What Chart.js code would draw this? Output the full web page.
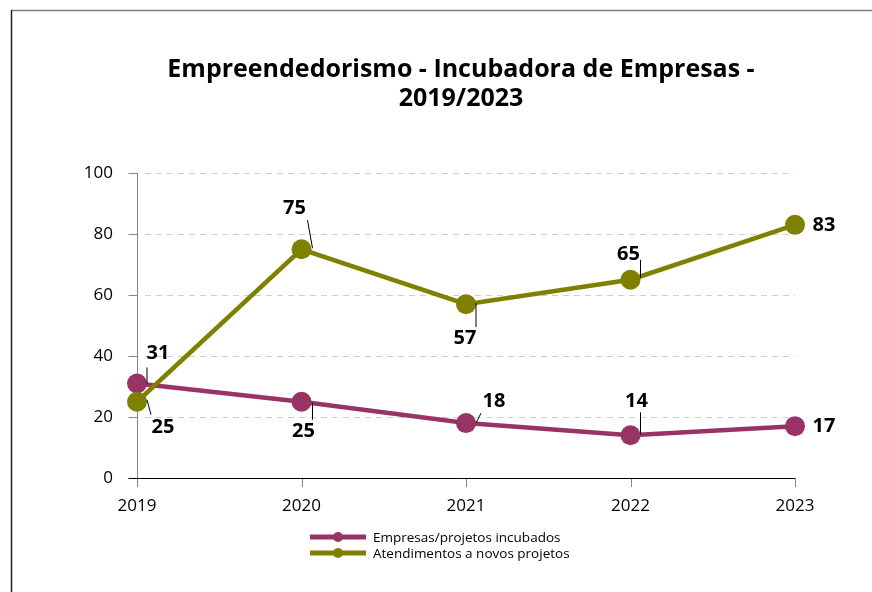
<!DOCTYPE html>
<html>
<head>
<meta charset="utf-8">
<script src="https://cdn.jsdelivr.net/npm/chart.js@4"></script>
<style>
  html, body { margin: 0; padding: 0; background: #fff; }
  #wrap { position: relative; width: 872px; height: 592px; }
</style>
</head>
<body>
<div id="wrap"><canvas id="chart" width="872" height="592"></canvas></div>
<script>
// data
var years = ['2019', '2020', '2021', '2022', '2023'];
var incubados = [31, 25, 18, 14, 17];
var atendimentos = [25, 75, 57, 65, 83];
var yTicks = [0, 20, 40, 60, 80, 100];

var titleLines = ['Empreendedorismo - Incubadora de Empresas -', '2019/2023'];
var nameIncubados = 'Empresas/projetos incubados';
var nameAtendimentos = 'Atendimentos a novos projetos';

var colIncubados = '#993366';
var colAtendimentos = '#808000';
var FONT = '"Open Sans", "Noto Sans", sans-serif';

// where each value label sits relative to its point, plus its little leader line
var labelOffIncubados = [[21, -30], [2, 30], [28, -22], [6, -34], [29, 0]];
var leaderIncubados = [[10, -16, 10, 0], [11, 1, 11, 18], [10, 0, 15, -10], [10, -23, 10, -1], null];
var labelOffAtend = [[26, 26], [-7, -41], [-1, 34], [-2, -25], [29, 0]];
var leaderAtend = [[10, -2, 14, 13], [6, -29, 11, -1], [10, -1, 10, 23], [10, -20, 10, -2], null];

var extras = {
  id: 'extras',
  beforeDraw: function (chart) {
    var ctx = chart.ctx;
    ctx.save();
    // frame (only top and left visible)
    ctx.strokeStyle = '#7f7f7f';
    ctx.lineWidth = 1.5;
    ctx.beginPath();
    ctx.moveTo(11, 10.5); ctx.lineTo(872, 10.5);
    ctx.stroke();
    ctx.strokeStyle = '#222';
    ctx.lineWidth = 1.5;
    ctx.beginPath();
    ctx.moveTo(11.5, 10); ctx.lineTo(11.5, 592);
    ctx.stroke();

    // title
    ctx.fillStyle = '#000';
    ctx.font = 'bold 25px ' + FONT;
    ctx.textAlign = 'center';
    ctx.textBaseline = 'middle';
    ctx.fillText(titleLines[0], 461, 70);
    ctx.fillText(titleLines[1], 461, 99);

    var ys = chart.scales.y, xs = chart.scales.x;
    var left = chart.chartArea.left, right = chart.chartArea.right;
    var y0 = ys.getPixelForValue(0);

    // dashed grid
    ctx.strokeStyle = '#cfcfcf';
    ctx.lineWidth = 1;
    ctx.setLineDash([6, 5]);
    yTicks.forEach(function (v) {
      if (v === 0) return;
      var y = Math.round(ys.getPixelForValue(v)) + 0.5;
      ctx.beginPath(); ctx.moveTo(left + 8, y); ctx.lineTo(right, y); ctx.stroke();
    });
    ctx.setLineDash([]);

    // y axis line and ticks
    ctx.strokeStyle = '#868686';
    var ax = Math.round(left) + 0.5;
    ctx.beginPath(); ctx.moveTo(ax, ys.getPixelForValue(100)); ctx.lineTo(ax, y0 + 9); ctx.stroke();
    yTicks.forEach(function (v) {
      var y = Math.round(ys.getPixelForValue(v)) + 0.5;
      ctx.beginPath(); ctx.moveTo(ax - 9, y); ctx.lineTo(ax, y); ctx.stroke();
    });
    // x ticks
    years.forEach(function (yr, i) {
      var x = Math.round(xs.getPixelForValue(i)) + 0.5;
      ctx.beginPath(); ctx.moveTo(x, y0); ctx.lineTo(x, y0 + 9); ctx.stroke();
    });
    // x axis line
    ctx.strokeStyle = '#000';
    var yy = Math.round(y0) + 0.5;
    ctx.beginPath(); ctx.moveTo(ax - 9, yy); ctx.lineTo(right, yy); ctx.stroke();

    // legend
    var rows = [[nameIncubados, colIncubados, 537], [nameAtendimentos, colAtendimentos, 553]];
    ctx.font = '13.5px ' + FONT;
    ctx.textAlign = 'left';
    rows.forEach(function (r) {
      ctx.strokeStyle = r[1];
      ctx.lineWidth = 5;
      ctx.beginPath(); ctx.moveTo(310, r[2]); ctx.lineTo(366, r[2]); ctx.stroke();
      ctx.fillStyle = r[1];
      ctx.beginPath(); ctx.arc(338, r[2], 5, 0, Math.PI * 2); ctx.fill();
      ctx.fillStyle = '#000';
      ctx.fillText(r[0], 373, r[2] + 1);
    });
    ctx.restore();
  },
  afterDatasetsDraw: function (chart) {
    var ctx = chart.ctx;
    ctx.save();
    ctx.font = 'bold 20px ' + FONT;
    ctx.textAlign = 'center';
    ctx.textBaseline = 'middle';
    var sets = [[0, incubados, labelOffIncubados, leaderIncubados], [1, atendimentos, labelOffAtend, leaderAtend]];
    sets.forEach(function (s) {
      var meta = chart.getDatasetMeta(s[0]);
      meta.data.forEach(function (pt, i) {
        var off = s[2][i], ld = s[3][i];
        if (ld) {
          ctx.strokeStyle = '#000';
          ctx.lineWidth = 1;
          ctx.beginPath();
          ctx.moveTo(pt.x + ld[0], pt.y + ld[1]);
          ctx.lineTo(pt.x + ld[2], pt.y + ld[3]);
          ctx.stroke();
        }
        ctx.fillStyle = '#000';
        ctx.fillText(String(s[1][i]), pt.x + off[0], pt.y + off[1]);
      });
    });
    ctx.restore();
  }
};

new Chart(document.getElementById('chart'), {
  type: 'line',
  data: {
    labels: years,
    datasets: [{
      label: nameIncubados,
      data: incubados,
      borderColor: colIncubados,
      backgroundColor: colIncubados,
      borderWidth: 4.5,
      pointRadius: 10,
      pointHoverRadius: 10,
      pointBorderWidth: 0,
      order: 2
    }, {
      label: nameAtendimentos,
      data: atendimentos,
      borderColor: colAtendimentos,
      backgroundColor: colAtendimentos,
      borderWidth: 4.5,
      pointRadius: 10,
      pointHoverRadius: 10,
      pointBorderWidth: 0,
      order: 1
    }]
  },
  options: {
    responsive: false,
    animation: false,
    events: [],
    layout: { padding: { left: 40, right: 77, top: 173, bottom: 74 } },
    plugins: { legend: { display: false }, title: { display: false }, tooltip: { enabled: false } },
    scales: {
      x: {
        offset: false,
        grid: { display: false },
        border: { display: false },
        ticks: { color: '#000', font: { family: FONT, size: 17 }, padding: 10 },
        afterFit: function (s) { s.height = 40; }
      },
      y: {
        min: 0, max: 100,
        grid: { display: false },
        border: { display: false },
        ticks: { stepSize: 20, color: '#000', font: { family: FONT, size: 17 }, padding: 16 },
        afterFit: function (s) { s.width = 97; }
      }
    }
  },
  plugins: [extras]
});
</script>
</body>
</html>
